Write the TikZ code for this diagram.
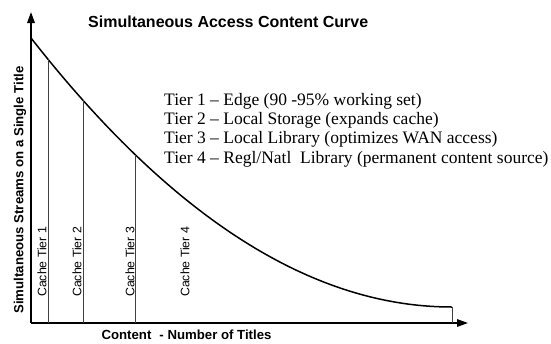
\documentclass[tikz,border=0pt]{standalone}
\usepackage{fontspec}
\setmainfont{Liberation Serif}
\setsansfont{Liberation Sans}
\usetikzlibrary{arrows.meta}

\begin{document}
\begin{tikzpicture}[x=1pt,y=-1pt,font=\sffamily]
% Styles for axes, curve, tier lines and labels
\tikzset{
axis line/.style={line width=1.6pt,-{Triangle[length=11pt,width=7.5pt]}},
content curve/.style={line width=1.5pt},
tier line/.style={line width=0.7pt,black!75},
cache label/.style={rotate=90,anchor=west,inner sep=0,font=\sffamily\fontsize{12.3}{12.3}\selectfont},
axis label/.style={inner sep=0,font=\sffamily\bfseries\fontsize{13.2}{13.2}\selectfont},
tier text/.style={anchor=base west,inner sep=0,font=\rmfamily\fontsize{17.5}{19}\selectfont}
}
\useasboundingbox (0,0) rectangle (551,343);

% Axes
\coordinate (origin) at (31,323);
\coordinate (ytop) at (31,12);
\coordinate (xend) at (468,323);
\draw[axis line] (origin) -- (ytop);
\draw[axis line] (origin) -- (xend);

% The curve
\coordinate (start) at (31,38);
\coordinate (tail) at (452,307);
\draw[content curve] plot[domain=31:452,samples=80,smooth] ({\x},{307-15.18*((452-\x)/100)^2});
\draw[tier line] (tail) -- (tail |- origin);

% Tier boundaries
\foreach \x/\y [count=\i] in {48/59.2,83/100.3,135/154.5}{
\coordinate (c\i) at (\x,\y);
\draw[tier line] (c\i) -- (c\i |- origin);
}
\foreach \x [count=\i] in {42,77,130,185}
\node[cache label] (cache\i) at (\x,297) {Cache Tier \i};

% Labels
\node[axis label,font=\sffamily\bfseries\fontsize{16}{16}\selectfont,anchor=west] (title) at (88,22) {Simultaneous Access Content Curve};
\node[axis label,rotate=90] (ylabel) at (20,190) {Simultaneous Streams on a Single Title};
\node[axis label] (xlabel) at (186.5,335) {Content\,\, - Number of Titles};

\node[tier text] (tier1) at (164,105) {Tier 1 -- Edge (90 -95\% working set)};
\node[tier text] (tier2) at (164,124.4) {Tier 2 -- Local Storage (expands cache)};
\node[tier text] (tier3) at (164,143.8) {Tier 3 -- Local Library (optimizes WAN access)};
\node[tier text] (tier4) at (164,163.2) {Tier 4 -- Regl/Natl\ \ Library (permanent content source)};

\end{tikzpicture}
\end{document}
